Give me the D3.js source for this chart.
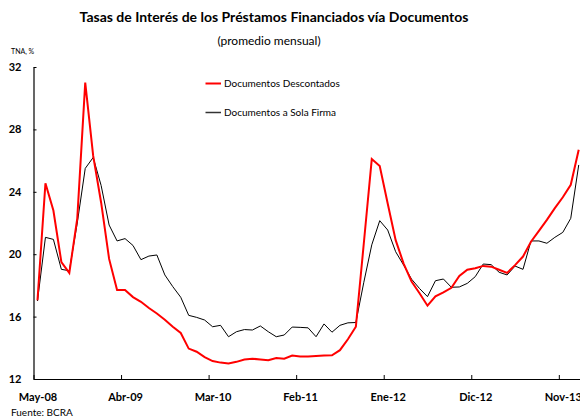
<!DOCTYPE html>
<html>
<head>
<meta charset="utf-8">
<script src="https://cdn.jsdelivr.net/npm/d3@7"></script>
<style>
  body { margin: 0; background: #fff; }
  svg { display: block; font-family: Lato, "Open Sans", sans-serif; }
</style>
</head>
<body>
<svg id="chart" width="580" height="418"></svg>
<script>
// meses, May-08 .. Ene-14
var months = [
  'May-08','Jun-08','Jul-08','Ago-08','Sep-08','Oct-08','Nov-08','Dic-08',
  'Ene-09','Feb-09','Mar-09','Abr-09','May-09','Jun-09','Jul-09','Ago-09','Sep-09','Oct-09','Nov-09','Dic-09',
  'Ene-10','Feb-10','Mar-10','Abr-10','May-10','Jun-10','Jul-10','Ago-10','Sep-10','Oct-10','Nov-10','Dic-10',
  'Ene-11','Feb-11','Mar-11','Abr-11','May-11','Jun-11','Jul-11','Ago-11','Sep-11','Oct-11','Nov-11','Dic-11',
  'Ene-12','Feb-12','Mar-12','Abr-12','May-12','Jun-12','Jul-12','Ago-12','Sep-12','Oct-12','Nov-12','Dic-12',
  'Ene-13','Feb-13','Mar-13','Abr-13','May-13','Jun-13','Jul-13','Ago-13','Sep-13','Oct-13','Nov-13','Dic-13',
  'Ene-14'
];

var descontados = [
  17.05, 24.55, 22.8, 19.5, 18.8, 22.3, 31.0, 26.3, 23.3, 19.7, 17.7, 17.7,
  17.25, 16.95, 16.55, 16.2, 15.8, 15.35, 14.95, 13.95, 13.75, 13.4, 13.15, 13.05,
  13.0, 13.1, 13.25, 13.3, 13.25, 13.2, 13.35, 13.3, 13.5, 13.45, 13.45, 13.48,
  13.5, 13.52, 13.85, 14.55, 15.35, 20.7, 26.1, 25.65, 23.25, 20.9, 19.4, 18.25,
  17.5, 16.7, 17.3, 17.55, 17.85, 18.6, 19.0, 19.1, 19.25, 19.2, 19.0, 18.8,
  19.3, 19.85, 20.8, 21.5, 22.2, 22.95, 23.65, 24.45, 26.7
];

var solaFirma = [
  17.0, 21.08, 20.95, 19.03, 18.94, 22.0, 25.5, 26.2, 24.4, 21.87, 20.85, 21.0,
  20.56, 19.65, 19.88, 19.95, 18.67, 17.92, 17.24, 16.08, 15.95, 15.78, 15.35, 15.44,
  14.71, 15.03, 15.17, 15.14, 15.4, 15.03, 14.71, 14.82, 15.33, 15.31, 15.28, 14.71,
  15.53, 15.0, 15.44, 15.6, 15.62, 18.2, 20.6, 22.15, 21.55, 20.16, 19.3, 18.4,
  17.8, 17.28, 18.3, 18.41, 17.88, 17.9, 18.13, 18.56, 19.37, 19.33, 18.84, 18.67,
  19.24, 19.03, 20.85, 20.85, 20.7, 21.08, 21.4, 22.3, 25.72
];

var xTickLabels = ['May-08','Abr-09','Mar-10','Feb-11','Ene-12','Dic-12','Nov-13'];
var yTicks = [12, 16, 20, 24, 28, 32];

var svg = d3.select('#chart');

var x = d3.scaleLinear().domain([0, months.length]).range([33.5, 582.7]);
var y = d3.scaleLinear().domain([12, 32]).range([379, 67]);

// titulos
svg.append('text')
  .attr('x', 274).attr('y', 22)
  .attr('text-anchor', 'middle')
  .style('font-size', '14px').style('font-weight', 'bold')
  .text('Tasas de Interés de los Préstamos Financiados vía Documentos');

svg.append('text')
  .attr('x', 269).attr('y', 45)
  .attr('text-anchor', 'middle')
  .style('font-size', '12px')
  .text('(promedio mensual)');

svg.append('text')
  .attr('x', 11).attr('y', 54)
  .style('font-size', '7px')
  .text('TNA, %');

svg.append('text')
  .attr('x', 11).attr('y', 416)
  .style('font-size', '10px')
  .text('Fuente: BCRA');

// eje y
var yAxis = svg.append('g')
  .attr('transform', 'translate(33.5,0)')
  .call(d3.axisLeft(y).tickValues(yTicks).tickSize(-3).tickSizeOuter(0).tickPadding(12));
yAxis.select('.domain').attr('stroke', '#000').attr('stroke-width', 1.2);
yAxis.selectAll('.tick line').attr('stroke', '#000');
yAxis.selectAll('.tick text')
  .attr('fill', '#000')
  .style('font-size', '11px').style('font-weight', 'bold')
  .style('font-family', 'Lato, sans-serif');

// eje x
var xTickIdx = xTickLabels.map(function(m){ return months.indexOf(m); });
var xAxis = svg.append('g')
  .attr('transform', 'translate(0,379)')
  .call(d3.axisBottom(x).tickValues(xTickIdx).tickSize(-4).tickSizeOuter(0).tickPadding(14)
    .tickFormat(function(d){ return months[d]; }));
xAxis.select('.domain').attr('stroke', '#000').attr('stroke-width', 1.2);
xAxis.selectAll('.tick line').attr('stroke', '#000');
xAxis.selectAll('.tick text')
  .attr('fill', '#000')
  .attr('dx', (x(1) - x(0)) / 2)
  .style('font-size', '11px').style('font-weight', 'bold')
  .style('font-family', 'Lato, sans-serif');

// lineas
var line = d3.line()
  .x(function(d, i){ return x(i + 0.5); })
  .y(function(d){ return y(d); });

svg.append('path')
  .datum(solaFirma)
  .attr('d', line)
  .attr('fill', 'none')
  .attr('stroke', '#000')
  .attr('stroke-width', 1);

svg.append('path')
  .datum(descontados)
  .attr('d', line)
  .attr('fill', 'none')
  .attr('stroke', '#ff0000')
  .attr('stroke-width', 2);

// leyenda
var legend = [
  { name: 'Documentos Descontados', color: '#ff0000', w: 2, y: 83.5 },
  { name: 'Documentos a Sola Firma', color: '#333', w: 1.5, y: 112.5 }
];
var lg = svg.selectAll('.legend').data(legend).enter()
  .append('g').attr('class', 'legend');
lg.append('line')
  .attr('x1', 205.5).attr('x2', 221)
  .attr('y1', function(d){ return d.y; }).attr('y2', function(d){ return d.y; })
  .attr('stroke', function(d){ return d.color; })
  .attr('stroke-width', function(d){ return d.w; });
lg.append('text')
  .attr('x', 224).attr('y', function(d){ return d.y + 3.5; })
  .style('font-size', '10px')
  .text(function(d){ return d.name; });
</script>
</body>
</html>
